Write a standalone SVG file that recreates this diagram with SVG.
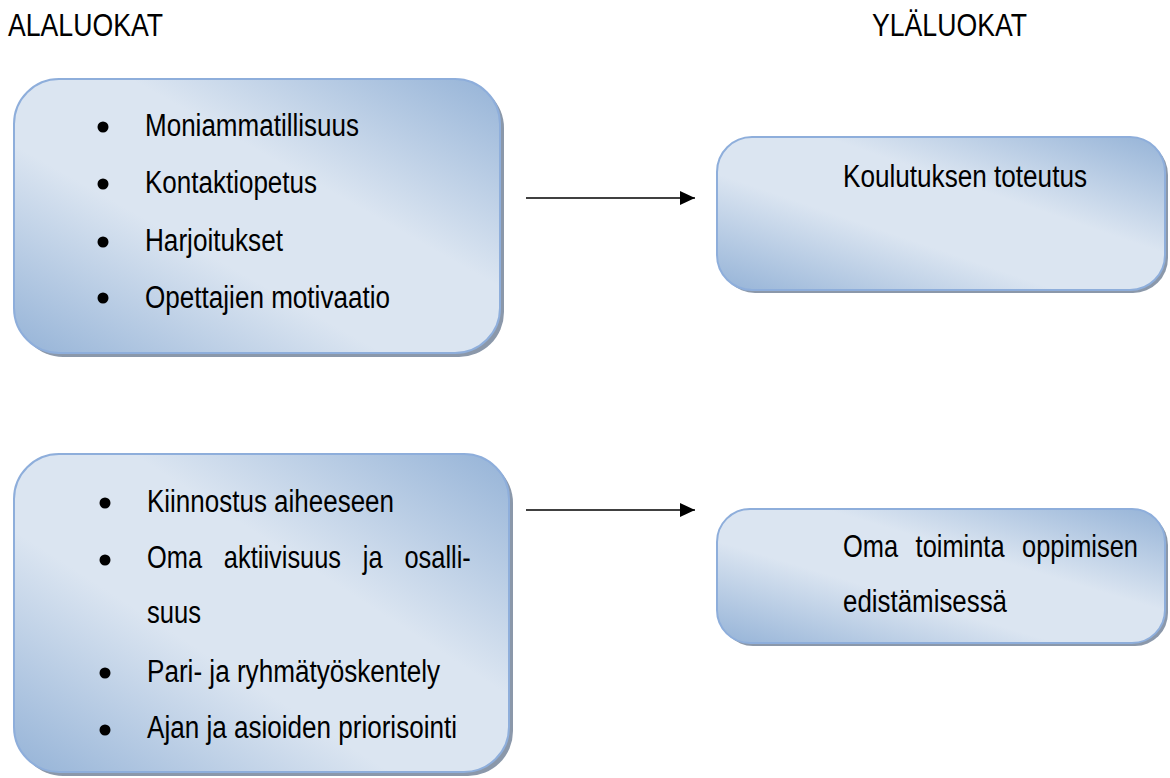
<svg xmlns="http://www.w3.org/2000/svg" width="1170" height="778" viewBox="0 0 1170 778">
<style>
text{font-family:"Liberation Sans Narrow","Arial Narrow","Liberation Sans",Arial,sans-serif;font-size:31px;fill:#000}
.box{fill:url(#g);stroke:#8eaedb;stroke-width:2}
.sh{fill:#8b98aa}
.b{fill:#000}
.conn{stroke:#000;stroke-width:1.6;fill:none;marker-end:url(#ah)}
</style>
<defs>
<linearGradient id="g" x1="0" y1="1" x2="1" y2="0">
<stop offset="0" stop-color="#95b3d7"/>
<stop offset="0.38" stop-color="#dbe5f1"/>
<stop offset="0.62" stop-color="#dbe5f1"/>
<stop offset="1" stop-color="#95b3d7"/>
</linearGradient>
<marker id="ah" markerUnits="userSpaceOnUse" markerWidth="16" markerHeight="16" refX="15" refY="7" orient="auto">
<path d="M0,0 L15,7 L0,14 Z" fill="#000"/>
</marker>
</defs>
<rect width="1170" height="778" fill="#fff"/>
<text x="8" y="36" textLength="155" lengthAdjust="spacingAndGlyphs">ALALUOKAT</text>
<text x="872" y="36" textLength="155" lengthAdjust="spacingAndGlyphs">YLÄLUOKAT</text>

<g id="n1">
<rect class="sh" x="18" y="83" width="486" height="274" rx="45"/>
<rect class="box" x="14" y="79" width="486" height="274" rx="45"/>
<circle class="b" cx="103" cy="127" r="5.5"/>
<circle class="b" cx="103" cy="184" r="5.5"/>
<circle class="b" cx="103" cy="242" r="5.5"/>
<circle class="b" cx="103" cy="298" r="5.5"/>
<text x="145" y="136" textLength="214" lengthAdjust="spacingAndGlyphs">Moniammatillisuus</text>
<text x="145" y="193" textLength="172" lengthAdjust="spacingAndGlyphs">Kontaktiopetus</text>
<text x="145" y="251" textLength="138" lengthAdjust="spacingAndGlyphs">Harjoitukset</text>
<text x="145" y="308" textLength="245" lengthAdjust="spacingAndGlyphs">Opettajien motivaatio</text>
</g>

<g id="n2">
<rect class="sh" x="720" y="140" width="448" height="153" rx="35"/>
<rect class="box" x="717" y="137" width="448" height="153" rx="35"/>
<text x="843" y="187" textLength="244" lengthAdjust="spacingAndGlyphs">Koulutuksen toteutus</text>
</g>

<g id="n3">
<rect class="sh" x="18" y="458" width="495" height="318" rx="45"/>
<rect class="box" x="14" y="454" width="495" height="318" rx="45"/>
<circle class="b" cx="105" cy="503" r="5.5"/>
<circle class="b" cx="105" cy="560" r="5.5"/>
<circle class="b" cx="105" cy="673" r="5.5"/>
<circle class="b" cx="105" cy="730" r="5.5"/>
<text x="147" y="512" textLength="247" lengthAdjust="spacingAndGlyphs">Kiinnostus aiheeseen</text>
<text transform="translate(147 568) scale(0.82 1)" x="0" y="0" word-spacing="18">Oma aktiivisuus ja osalli-</text>
<text x="147" y="623" textLength="54" lengthAdjust="spacingAndGlyphs">suus</text>
<text x="147" y="682" textLength="293" lengthAdjust="spacingAndGlyphs">Pari- ja ryhmätyöskentely</text>
<text x="147" y="738" textLength="310" lengthAdjust="spacingAndGlyphs">Ajan ja asioiden priorisointi</text>
</g>

<g id="n4">
<rect class="sh" x="720" y="512" width="448" height="134" rx="33"/>
<rect class="box" x="717" y="509" width="448" height="134" rx="33"/>
<text transform="translate(843 557) scale(0.82 1)" x="0" y="0" word-spacing="12.8">Oma toiminta oppimisen</text>
<text x="843" y="612" textLength="164" lengthAdjust="spacingAndGlyphs">edistämisessä</text>
</g>

<g id="connectors">
<line class="conn" x1="526" y1="198" x2="695" y2="198"/>
<line class="conn" x1="526" y1="510" x2="695" y2="510"/>
</g>
</svg>
